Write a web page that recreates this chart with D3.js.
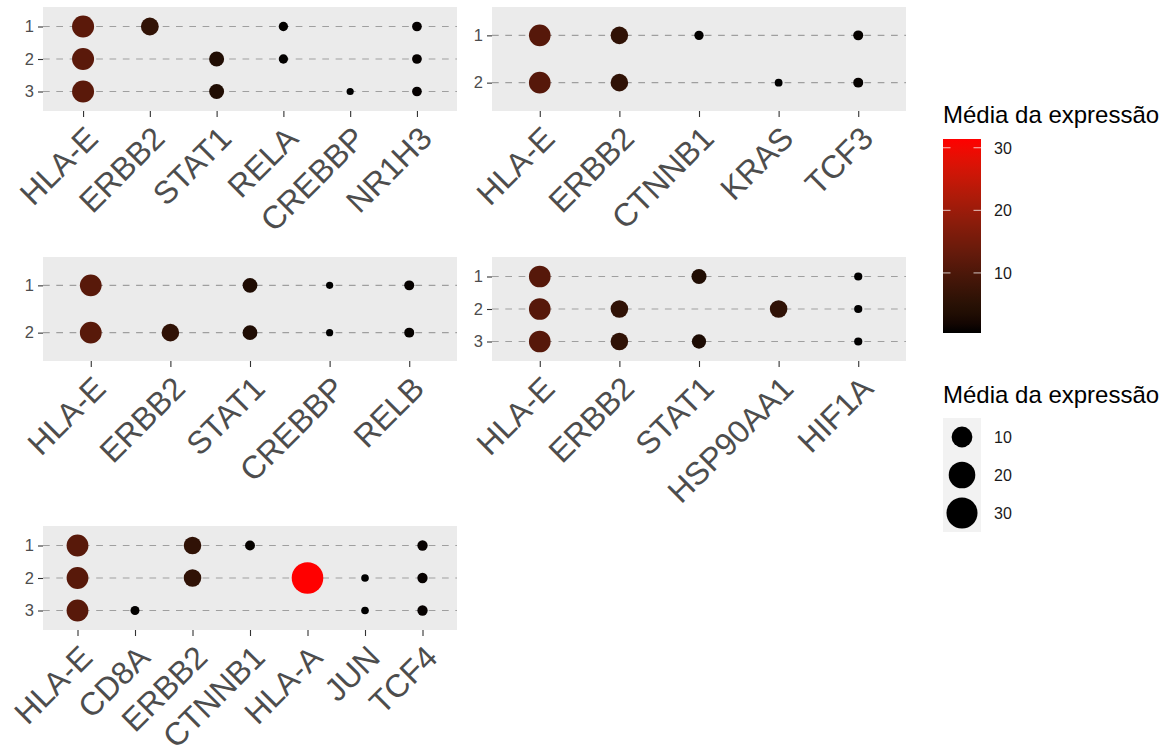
<!DOCTYPE html>
<html>
<head>
<meta charset="utf-8">
<script src="https://cdn.jsdelivr.net/npm/d3@7"></script>
<style>
  body { margin: 0; background: #fff; }
  svg { display: block; font-family: "Liberation Sans", Arial, Helvetica, sans-serif; }
</style>
</head>
<body>
<div id="chart"></div>
<script>
// panel 1
var genes1 = ["HLA-E", "ERBB2", "STAT1", "RELA", "CREBBP", "NR1H3"];
var clusters1 = ["1", "2", "3"];
var expr1 = [
  [11.9, 6.3, null, 0.63, null, 0.73],
  [11.8, null, 3.6, 0.63, null, 0.73],
  [11.8, null, 3.5, null, 0.4, 0.73]
];
// panel 2
var genes2 = ["HLA-E", "ERBB2", "CTNNB1", "KRAS", "TCF3"];
var clusters2 = ["1", "2"];
var expr2 = [
  [11.3, 6.0, 0.63, null, 0.8],
  [11.3, 6.0, null, 0.42, 0.8]
];
// panel 3
var genes3 = ["HLA-E", "ERBB2", "STAT1", "CREBBP", "RELB"];
var clusters3 = ["1", "2"];
var expr3 = [
  [11.5, null, 3.4, 0.4, 0.8],
  [11.5, 6.0, 3.4, 0.4, 0.8]
];
// panel 4
var genes4 = ["HLA-E", "ERBB2", "STAT1", "HSP90AA1", "HIF1A"];
var clusters4 = ["1", "2", "3"];
var expr4 = [
  [11.3, null, 3.6, null, 0.45],
  [11.3, 6.0, null, 6.0, 0.45],
  [11.3, 6.0, 3.0, null, 0.45]
];
// panel 5
var genes5 = ["HLA-E", "CD8A", "ERBB2", "CTNNB1", "HLA-A", "JUN", "TCF4"];
var clusters5 = ["1", "2", "3"];
var expr5 = [
  [11.5, null, 6.0, 0.8, null, null, 0.9],
  [11.5, null, 6.0, null, 31.4, 0.41, 0.9],
  [11.5, 0.57, null, null, null, 0.41, 0.9]
];

var legendTitle = "Média da expressão";
var colorBreaks = [10, 20, 30];
var sizeBreaks = [10, 20, 30];

var W = 1175, H = 747;
var pw = 414, ph = 104;

var panels = [
  {genes: genes1, clusters: clusters1, values: expr1, x: 43, y: 7},
  {genes: genes2, clusters: clusters2, values: expr2, x: 492, y: 7},
  {genes: genes3, clusters: clusters3, values: expr3, x: 43, y: 257},
  {genes: genes4, clusters: clusters4, values: expr4, x: 492, y: 257},
  {genes: genes5, clusters: clusters5, values: expr5, x: 43, y: 526}
];

// overall range of expression, shared by colour and size
var allVals = [];
panels.forEach(function(p) {
  p.values.forEach(function(row) {
    row.forEach(function(v) { if (v != null) allVals.push(v); });
  });
});
var ext = d3.extent(allVals);

var color = d3.scaleLinear().domain(ext).range(["black", "red"]).interpolate(d3.interpolateLab);
var norm = d3.scaleLinear().domain(ext).range([0, 1]);
var rad = d3.scaleSqrt().domain([0, 1]).range([3.6, 15.8]);
function radius(v) { return rad(norm(v)); }

var svg = d3.select("#chart").append("svg")
  .attr("width", W)
  .attr("height", H);

function drawPanel(p) {
  var g = svg.append("g").attr("transform", "translate(" + p.x + "," + p.y + ")");

  var x = d3.scalePoint().domain(p.genes).range([0, pw]).padding(0.6);
  var y = d3.scalePoint().domain(p.clusters).range([0, ph]).padding(0.6);

  g.append("rect")
    .attr("width", pw)
    .attr("height", ph)
    .attr("fill", "#ebebeb");

  // dashed horizontal grid
  g.selectAll("line.grid")
    .data(p.clusters)
    .enter()
      .append("line")
      .attr("class", "grid")
      .attr("x1", 0)
      .attr("x2", pw)
      .attr("y1", function(d) { return y(d); })
      .attr("y2", function(d) { return y(d); })
      .attr("stroke", "#9f9f9f")
      .attr("stroke-width", 1.1)
      .attr("stroke-dasharray", "6.7,6.6");

  var pts = [];
  p.values.forEach(function(row, i) {
    row.forEach(function(v, j) {
      if (v != null) pts.push({cl: p.clusters[i], gene: p.genes[j], v: v});
    });
  });

  g.selectAll("circle")
    .data(pts)
    .enter()
      .append("circle")
      .attr("cx", function(d) { return x(d.gene); })
      .attr("cy", function(d) { return y(d.cl); })
      .attr("r", function(d) { return radius(d.v); })
      .attr("fill", function(d) { return color(d.v); });

  // x axis
  var ax = g.append("g")
    .attr("transform", "translate(0," + ph + ")")
    .call(d3.axisBottom(x).tickSize(6));
  ax.attr("font-family", null).attr("font-size", null);
  ax.select(".domain").remove();
  ax.selectAll(".tick line").attr("stroke", "#333").attr("stroke-width", 1.1);
  ax.selectAll(".tick text")
    .attr("font-size", 32)
    .attr("fill", "#4d4d4d")
    .attr("text-anchor", "end")
    .attr("x", 0)
    .attr("y", 0)
    .attr("dy", "0.72em")
    .attr("transform", "translate(0,13) rotate(-45)");

  // y axis
  var ay = g.append("g").call(d3.axisLeft(y).tickSize(5).tickPadding(4));
  ay.attr("font-family", null).attr("font-size", null);
  ay.select(".domain").remove();
  ay.selectAll(".tick line").attr("stroke", "#333").attr("stroke-width", 1.1);
  ay.selectAll(".tick text")
    .attr("font-size", 16.5)
    .attr("fill", "#4d4d4d");
}

panels.forEach(drawPanel);

// colour legend
var lx = 943, bw = 38;
var cbTop = 139, cbBot = 333;
svg.append("text")
  .attr("x", lx)
  .attr("y", 123)
  .attr("font-size", 24)
  .attr("fill", "#000")
  .text(legendTitle);

var defs = svg.append("defs");
var grad = defs.append("linearGradient")
  .attr("id", "cgrad")
  .attr("x1", 0).attr("y1", 1).attr("x2", 0).attr("y2", 0);
d3.range(0, 1.0001, 0.05).forEach(function(t) {
  grad.append("stop")
    .attr("offset", t)
    .attr("stop-color", color(ext[0] + t * (ext[1] - ext[0])));
});

svg.append("rect")
  .attr("x", lx)
  .attr("y", cbTop)
  .attr("width", bw)
  .attr("height", cbBot - cbTop)
  .attr("fill", "url(#cgrad)");

var cy = d3.scaleLinear().domain(ext).range([cbBot, cbTop]);
var cbt = svg.append("g");
colorBreaks.forEach(function(b) {
  cbt.append("line")
    .attr("x1", lx).attr("x2", lx + 7.5)
    .attr("y1", cy(b)).attr("y2", cy(b))
    .attr("stroke", "#fff").attr("stroke-opacity", 0.75);
  cbt.append("line")
    .attr("x1", lx + bw - 7.5).attr("x2", lx + bw)
    .attr("y1", cy(b)).attr("y2", cy(b))
    .attr("stroke", "#fff").attr("stroke-opacity", 0.75);
  cbt.append("text")
    .attr("x", 994)
    .attr("y", cy(b))
    .attr("dy", "0.36em")
    .attr("font-size", 16)
    .attr("fill", "#1a1a1a")
    .text(b);
});

// size legend
svg.append("text")
  .attr("x", lx)
  .attr("y", 403)
  .attr("font-size", 24)
  .attr("fill", "#000")
  .text(legendTitle);

var keyTop = 418, keyH = 38;
svg.append("rect")
  .attr("x", lx)
  .attr("y", keyTop)
  .attr("width", bw)
  .attr("height", keyH * sizeBreaks.length)
  .attr("fill", "#f2f2f2");

var sk = svg.selectAll("g.skey")
  .data(sizeBreaks)
  .enter()
    .append("g")
    .attr("class", "skey")
    .attr("transform", function(d, i) { return "translate(" + (lx + bw / 2) + "," + (keyTop + keyH * i + keyH / 2) + ")"; });
sk.append("circle")
  .attr("r", function(d) { return radius(d); })
  .attr("fill", "#000");
sk.append("text")
  .attr("x", 994 - lx - bw / 2)
  .attr("dy", "0.36em")
  .attr("font-size", 16)
  .attr("fill", "#1a1a1a")
  .text(function(d) { return d; });
</script>
</body>
</html>
